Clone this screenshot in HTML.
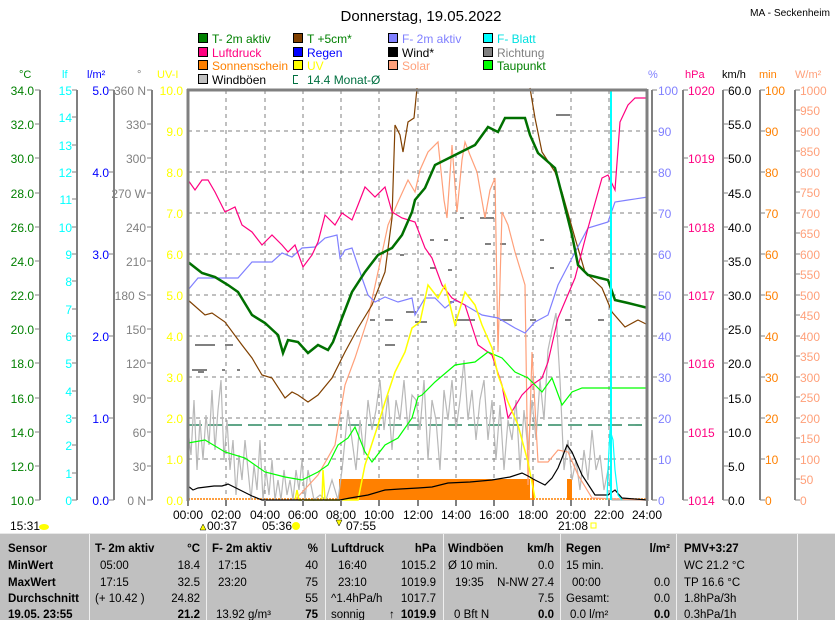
<!DOCTYPE html>
<html><head><meta charset="utf-8"><style>
html,body{margin:0;padding:0;background:#fff;}
svg{display:block;font-family:"Liberation Sans",sans-serif;}
</style></head><body>
<svg width="835" height="620" viewBox="0 0 835 620" xmlns="http://www.w3.org/2000/svg">
<rect width="835" height="620" fill="#fff"/>
<text x="421" y="21" font-size="15" text-anchor="middle">Donnerstag, 19.05.2022</text>
<text x="750" y="16" font-size="10" textLength="80" lengthAdjust="spacingAndGlyphs">MA - Seckenheim</text>
<!-- legend -->
<g font-size="12" stroke="#000" stroke-width="1">
<rect x="198.5" y="33.5" width="9" height="9" fill="#008000"/><rect x="293.5" y="33.5" width="9" height="9" fill="#804000"/><rect x="388.5" y="33.5" width="9" height="9" fill="#8080ff"/><rect x="483.5" y="33.5" width="9" height="9" fill="#00ffff"/>
<rect x="198.5" y="47.5" width="9" height="9" fill="#ff0080"/><rect x="293.5" y="47.5" width="9" height="9" fill="#0000ff"/><rect x="388.5" y="47.5" width="9" height="9" fill="#000"/><rect x="483.5" y="47.5" width="9" height="9" fill="#808080"/>
<rect x="198.5" y="60.5" width="9" height="9" fill="#ff8000"/><rect x="293.5" y="60.5" width="9" height="9" fill="#ffff00"/><rect x="388.5" y="60.5" width="9" height="9" fill="#ffa07a"/><rect x="483.5" y="60.5" width="9" height="9" fill="#00ff00"/>
<rect x="198.5" y="74.5" width="9" height="9" fill="#c0c0c0"/>
</g>
<path d="M298,75.5 H293.5 V83.5 H298" fill="none" stroke="#007040"/>
<g font-size="12" stroke="none">
<text x="212" y="43" fill="#008000">T- 2m aktiv</text><text x="307" y="43" fill="#008000">T +5cm*</text><text x="402" y="43" fill="#8080ff">F- 2m aktiv</text><text x="497" y="43" fill="#00e0e0">F- Blatt</text>
<text x="212" y="57" fill="#ff0080">Luftdruck</text><text x="307" y="57" fill="#0000ff">Regen</text><text x="402" y="57" fill="#000">Wind*</text><text x="497" y="57" fill="#808080">Richtung</text>
<text x="212" y="70" fill="#ff8000">Sonnenschein</text><text x="307" y="70" fill="#ffff00">UV</text><text x="402" y="70" fill="#ffa07a">Solar</text><text x="497" y="70" fill="#008000">Taupunkt</text>
<text x="212" y="84" fill="#000">Windböen</text><text x="307" y="84" fill="#007040">14.4 Monat-Ø</text>
</g>
<!-- axis titles -->
<g font-size="11">
<text x="19" y="78" fill="#008000">°C</text><text x="62" y="78" fill="#00ffff">lf</text><text x="87" y="78" fill="#0000ff">l/m²</text><text x="137" y="78" fill="#808080">°</text><text x="157" y="78" fill="#ffff00">UV-I</text>
<text x="648" y="78" fill="#8080ff">%</text><text x="685" y="78" fill="#ff0080">hPa</text><text x="722" y="78" fill="#000">km/h</text><text x="759" y="78" fill="#ff8000">min</text><text x="795" y="78" fill="#ffa07a">W/m²</text>
</g>
<!-- axis lines -->
<g stroke="#808080" stroke-width="2">
<line x1="40" y1="90" x2="40" y2="500"/><line x1="77" y1="90" x2="77" y2="500"/><line x1="114" y1="90" x2="114" y2="500"/><line x1="152" y1="90" x2="152" y2="500"/>
<line x1="652" y1="90" x2="652" y2="500"/><line x1="683" y1="90" x2="683" y2="500"/><line x1="723" y1="90" x2="723" y2="500"/><line x1="760" y1="90" x2="760" y2="500"/><line x1="795" y1="90" x2="795" y2="500"/>
</g>
<!-- left ticks & labels -->
<g font-size="12" text-anchor="end">
<g fill="#008000"><text x="34" y="95">34.0</text><text x="34" y="129">32.0</text><text x="34" y="163">30.0</text><text x="34" y="198">28.0</text><text x="34" y="232">26.0</text><text x="34" y="266">24.0</text><text x="34" y="300">22.0</text><text x="34" y="334">20.0</text><text x="34" y="368">18.0</text><text x="34" y="403">16.0</text><text x="34" y="437">14.0</text><text x="34" y="471">12.0</text><text x="34" y="505">10.0</text></g>
<g fill="#00ffff"><text x="72" y="95">15</text><text x="72" y="122">14</text><text x="72" y="150">13</text><text x="72" y="177">12</text><text x="72" y="204">11</text><text x="72" y="232">10</text><text x="72" y="259">9</text><text x="72" y="286">8</text><text x="72" y="314">7</text><text x="72" y="341">6</text><text x="72" y="368">5</text><text x="72" y="396">4</text><text x="72" y="423">3</text><text x="72" y="450">2</text><text x="72" y="478">1</text><text x="72" y="505">0</text></g>
<g fill="#0000ff"><text x="109" y="95">5.0</text><text x="109" y="177">4.0</text><text x="109" y="259">3.0</text><text x="109" y="341">2.0</text><text x="109" y="423">1.0</text><text x="109" y="505">0.0</text></g>
<g fill="#808080"><text x="146" y="95">360 N</text><text x="146" y="129">330</text><text x="146" y="163">300</text><text x="146" y="198">270 W</text><text x="146" y="232">240</text><text x="146" y="266">210</text><text x="146" y="300">180 S</text><text x="146" y="334">150</text><text x="146" y="368">120</text><text x="146" y="403">90</text><text x="146" y="437">60</text><text x="146" y="471">30</text><text x="146" y="505">0 N</text></g>
<g fill="#ffff00"><text x="183" y="95">10.0</text><text x="183" y="136">9.0</text><text x="183" y="177">8.0</text><text x="183" y="218">7.0</text><text x="183" y="259">6.0</text><text x="183" y="300">5.0</text><text x="183" y="341">4.0</text><text x="183" y="382">3.0</text><text x="183" y="423">2.0</text><text x="183" y="464">1.0</text><text x="183" y="505">0.0</text></g>
</g>
<g stroke="#808080" stroke-width="1">
<path d="M35,90h5M35,124h5M35,158h5M35,193h5M35,227h5M35,261h5M35,295h5M35,329h5M35,363h5M35,398h5M35,432h5M35,466h5M35,500h5"/>
<path d="M72,90h5M72,117h5M72,145h5M72,172h5M72,199h5M72,227h5M72,254h5M72,281h5M72,309h5M72,336h5M72,363h5M72,391h5M72,418h5M72,445h5M72,473h5M72,500h5"/>
<path d="M109,90h5M109,172h5M109,254h5M109,336h5M109,418h5M109,500h5"/>
<path d="M147,90h5M147,124h5M147,158h5M147,193h5M147,227h5M147,261h5M147,295h5M147,329h5M147,363h5M147,398h5M147,432h5M147,466h5M147,500h5"/>
<path d="M652,90h5M652,131h5M652,172h5M652,213h5M652,254h5M652,295h5M652,336h5M652,377h5M652,418h5M652,459h5M652,500h5"/>
<path d="M683,90h5M683,158h5M683,227h5M683,295h5M683,363h5M683,432h5M683,500h5"/>
<path d="M723,90h5M723,124h5M723,158h5M723,193h5M723,227h5M723,261h5M723,295h5M723,329h5M723,363h5M723,398h5M723,432h5M723,466h5M723,500h5"/>
<path d="M760,90h5M760,131h5M760,172h5M760,213h5M760,254h5M760,295h5M760,336h5M760,377h5M760,418h5M760,459h5M760,500h5"/>
<path d="M795,90h5M795,110h5M795,131h5M795,151h5M795,172h5M795,192h5M795,213h5M795,233h5M795,254h5M795,274h5M795,295h5M795,315h5M795,336h5M795,356h5M795,377h5M795,397h5M795,418h5M795,438h5M795,459h5M795,479h5M795,500h5"/>
</g>
<g font-size="12">
<g fill="#8080ff"><text x="658" y="95">100</text><text x="658" y="136">90</text><text x="658" y="177">80</text><text x="658" y="218">70</text><text x="658" y="259">60</text><text x="658" y="300">50</text><text x="658" y="341">40</text><text x="658" y="382">30</text><text x="658" y="423">20</text><text x="658" y="464">10</text><text x="658" y="505">0</text></g>
<g fill="#ff0080"><text x="688" y="95">1020</text><text x="688" y="163">1019</text><text x="688" y="232">1018</text><text x="688" y="300">1017</text><text x="688" y="368">1016</text><text x="688" y="437">1015</text><text x="688" y="505">1014</text></g>
<g fill="#000"><text x="728" y="95">60.0</text><text x="728" y="129">55.0</text><text x="728" y="163">50.0</text><text x="728" y="198">45.0</text><text x="728" y="232">40.0</text><text x="728" y="266">35.0</text><text x="728" y="300">30.0</text><text x="728" y="334">25.0</text><text x="728" y="368">20.0</text><text x="728" y="403">15.0</text><text x="728" y="437">10.0</text><text x="728" y="471">5.0</text><text x="728" y="505">0.0</text></g>
<g fill="#ff8000"><text x="765" y="95">100</text><text x="765" y="136">90</text><text x="765" y="177">80</text><text x="765" y="218">70</text><text x="765" y="259">60</text><text x="765" y="300">50</text><text x="765" y="341">40</text><text x="765" y="382">30</text><text x="765" y="423">20</text><text x="765" y="464">10</text><text x="765" y="505">0</text></g>
<g fill="#ffa07a"><text x="800" y="95">1000</text><text x="800" y="115">950</text><text x="800" y="136">900</text><text x="800" y="156">850</text><text x="800" y="177">800</text><text x="800" y="197">750</text><text x="800" y="218">700</text><text x="800" y="238">650</text><text x="800" y="259">600</text><text x="800" y="279">550</text><text x="800" y="300">500</text><text x="800" y="320">450</text><text x="800" y="341">400</text><text x="800" y="361">350</text><text x="800" y="382">300</text><text x="800" y="402">250</text><text x="800" y="423">200</text><text x="800" y="443">150</text><text x="800" y="464">100</text><text x="800" y="484">50</text><text x="800" y="505">0</text></g>
</g>
<!-- grid -->
<g stroke="#808080" stroke-width="1" stroke-dasharray="4,4" fill="none">
<path d="M188,131H647M188,172H647M188,213H647M188,254H647M188,295H647M188,336H647M188,377H647M188,418H647M188,459H647"/>
<path d="M226,90V500M265,90V500M303,90V500M341,90V500M379,90V500M418,90V500M456,90V500M494,90V500M533,90V500M571,90V500M609,90V500"/>
</g>
<line x1="188" y1="425" x2="647" y2="425" stroke="#007040" stroke-width="1.3" stroke-dasharray="14,6"/>
<!-- sunshine -->
<path d="M339,479H530V500H339Z M532,479H534V500H532Z M567,479H572V500H567Z" fill="#ff8000"/>
<line x1="188" y1="499" x2="647" y2="499" stroke="#ff8000" stroke-width="1.5" stroke-dasharray="2,1"/>
<!-- richtung dashes -->
<g stroke="#808080" stroke-width="2">
<path d="M195,345h20M225,345h8M192,370h15M222,370h3M198,372h6M237,370h3M370,320h5M385,345h10M406,312h10M430,240h4M430,268h6M444,240h4M460,218h4M448,270h4M400,255h4M450,302h4M480,218h14M485,244h6M500,244h6M540,240h4M550,268h4M556,115h14M385,320h8M415,322h12M455,320h20M500,320h12M530,320h6M565,320h6M598,320h6"/>
</g>
<!-- windböen -->
<polyline fill="none" stroke="#b8b8b8" stroke-width="1.2" points="188,430 191,455 194,400 197,470 200,420 203,460 206,415 209,445 212,390 215,450 218,410 221,380 224,460 227,420 230,470 233,440 236,495 239,455 242,480 245,440 248,470 251,500 254,465 257,490 260,440 263,500 266,470 269,495 272,460 275,500 278,480 281,500 284,470 287,495 290,480 293,500 296,470 299,490 302,460 305,500 308,470 311,485 314,500 320,495 326,500 332,480 338,500 342,470 348,410 352,440 356,470 360,420 364,455 368,400 372,430 376,410 380,380 384,430 388,395 392,450 396,400 400,420 404,380 408,430 412,395 416,400 420,430 424,380 428,460 432,400 436,420 440,470 444,390 448,420 452,380 456,430 460,400 464,360 468,420 472,390 476,440 480,400 484,380 488,440 492,400 496,460 500,405 504,470 508,420 512,440 516,400 520,470 524,410 528,450 532,400 536,440 540,380 544,420 548,350 552,330 556,313 560,380 564,470 568,440 572,480 576,460 580,490 584,450 588,480 592,430 596,470 600,455 604,490 608,470 612,500 618,500 647,500"/>
<!-- solar -->
<polyline fill="none" stroke="#ffa07a" stroke-width="1.2" points="295,500 318,475 335,445 345,385 355,358 368,318 378,272 388,225 398,202 408,180 415,192 420,170 428,152 438,142 444,200 447,218 452,145 457,212 462,160 465,142 470,155 477,172 485,218 490,190 495,178 498,352 502,212 508,225 515,252 525,285 528,485 532,352 538,462 548,462 558,450 568,452 578,475 592,498 647,500"/>
<!-- T+5cm -->
<polyline fill="none" stroke="#804000" stroke-width="1.2" points="188,300 205,315 212,313 225,322 242,345 252,358 262,375 272,378 285,398 292,392 298,395 308,402 318,395 332,378 345,352 358,328 372,305 385,272 392,218 395,125 400,135 403,152 408,122 414,118 417,88"/>
<polyline fill="none" stroke="#804000" stroke-width="1.2" points="530,88 535,118 542,152 555,172 562,192 575,238 585,272 602,288 612,312 625,327 638,320 648,325"/>
<!-- F 2m -->
<polyline fill="none" stroke="#8080ff" stroke-width="1.2" points="188,290 198,278 218,278 238,278 252,262 272,262 282,253 292,257 302,248 315,247 325,238 337,235 340,258 345,250 352,248 362,278 368,295 375,302 385,297 398,302 412,298 415,315 425,298 435,298 445,308 455,300 465,305 482,315 498,318 515,328 525,333 535,322 548,315 558,285 572,258 588,228 608,222 615,202 628,200 648,197"/>
<!-- Luftdruck -->
<polyline fill="none" stroke="#ff0080" stroke-width="1.2" points="188,180 195,190 202,180 208,180 215,192 225,212 235,207 242,225 252,232 262,245 272,235 282,245 288,252 295,245 303,267 312,255 318,242 325,215 335,225 342,213 352,220 358,205 365,187 375,197 385,187 392,212 402,218 415,222 425,248 432,258 442,285 452,298 465,305 478,345 492,355 502,385 508,418 522,395 532,385 542,378 548,362 558,318 575,278 588,228 602,178 608,175 615,190 620,122 628,105 635,98 648,98"/>
<!-- Taupunkt -->
<polyline fill="none" stroke="#00ff00" stroke-width="1.2" points="188,443 205,440 225,452 245,458 265,472 285,477 302,480 318,472 328,465 338,445 348,438 355,427 365,452 372,462 385,445 398,438 412,418 418,397 422,395 435,382 455,365 475,362 488,352 502,358 515,372 528,378 542,392 552,378 562,405 572,392 582,388 605,388 615,388 648,388"/>
<!-- UV -->
<polyline fill="none" stroke="#ffff00" stroke-width="1.5" points="295,500 297,490 299,500 322,500 323,470 325,500 358,500 365,465 378,425 385,402 395,372 405,352 412,328 420,322 428,285 438,298 445,285 455,325 465,292 475,305 482,325 492,348 498,375 508,402 518,425 528,462 535,498"/>
<!-- wind black -->
<polyline fill="none" stroke="#000" stroke-width="1.2" points="188,486 193,490 198,488 206,487 214,486 222,486 228,484 236,488 244,492 252,496 262,500 340,500 350,498 368,495 385,490 400,489 418,488 432,487 448,483 470,482 492,480 510,477 522,473 528,476 535,480 545,485 552,478 558,468 562,458 567,445 572,452 582,475 595,495 608,495 615,490 622,498 648,500"/>
<!-- T 2m -->
<polyline fill="none" stroke="#007000" stroke-width="2.5" points="188,262 202,273 215,277 228,285 238,292 252,315 265,323 278,335 283,353 288,340 298,342 308,353 318,345 328,350 333,342 342,318 352,292 365,272 378,255 392,248 402,235 412,212 415,200 425,188 435,165 455,155 475,145 488,127 498,132 505,118 525,118 530,135 538,153 555,168 562,195 572,235 578,265 588,275 608,280 615,300 628,303 648,308"/>
<!-- cyan -->
<line x1="611" y1="90" x2="611" y2="500" stroke="#00ffff" stroke-width="2"/>
<polyline fill="none" stroke="#00ffff" stroke-width="1.2" points="607,500 608,470 610,430 613,440 615,470 618,495 622,500"/>
<!-- frame -->
<g stroke="#808080" stroke-width="3" fill="none">
<line x1="188" y1="89" x2="188" y2="501"/><line x1="187" y1="90" x2="647" y2="90"/><line x1="647" y1="89" x2="647" y2="501"/>
</g>
<g stroke="#808080" stroke-width="2">
<path d="M188,500v6M226,500v6M265,500v6M303,500v6M341,500v6M379,500v6M418,500v6M456,500v6M494,500v6M533,500v6M571,500v6M609,500v6M647,500v6"/>
</g>
<g font-size="12" text-anchor="middle">
<text x="188" y="519">00:00</text><text x="226" y="519">02:00</text><text x="265" y="519">04:00</text><text x="303" y="519">06:00</text><text x="341" y="519">08:00</text><text x="379" y="519">10:00</text><text x="418" y="519">12:00</text><text x="456" y="519">14:00</text><text x="494" y="519">16:00</text><text x="533" y="519">18:00</text><text x="571" y="519">20:00</text><text x="609" y="519">22:00</text><text x="647" y="519">24:00</text>
</g>
<g font-size="12">
<text x="10" y="530">15:31</text><ellipse cx="44" cy="527" rx="5" ry="3" fill="#ffff00"/>
<text x="207" y="530">00:37</text><path d="M200,530l3,-6l3,6z" fill="#ffff00" stroke="#000" stroke-width=".5"/>
<text x="262" y="530">05:36</text><circle cx="296" cy="526" r="4" fill="#ffff00"/>
<text x="346" y="530">07:55</text><path d="M336,520l3,6l3,-6z" fill="#ffff00" stroke="#000" stroke-width=".5"/>
<text x="558" y="530">21:08</text><rect x="591" y="523" width="5" height="5" fill="none" stroke="#ffff00"/>
</g>
<!-- table -->
<rect x="0" y="533" width="835" height="87" fill="#c0c0c0"/>
<line x1="0" y1="533.5" x2="835" y2="533.5" stroke="#e8e8e8"/>
<g stroke="#f0f0f0" stroke-width="1">
<path d="M89.5,534V620M206.5,534V620M325.5,534V620M443.5,534V620M560.5,534V620M676.5,534V620M797.5,534V620"/>
</g>
<g font-size="11.5" fill="#000">
<g font-weight="bold"><text x="8" y="552">Sensor</text><text x="8" y="569">MinWert</text><text x="8" y="586">MaxWert</text><text x="8" y="602">Durchschnitt</text><text x="8" y="618">19.05. 23:55</text>
<text x="95" y="552">T- 2m aktiv</text><text x="200" y="552" text-anchor="end">°C</text>
<text x="212" y="552">F- 2m aktiv</text><text x="318" y="552" text-anchor="end">%</text>
<text x="331" y="552">Luftdruck</text><text x="436" y="552" text-anchor="end">hPa</text>
<text x="448" y="552">Windböen</text><text x="554" y="552" text-anchor="end">km/h</text>
<text x="566" y="552">Regen</text><text x="670" y="552" text-anchor="end">l/m²</text>
<text x="684" y="552">PMV+3:27</text></g>
<text x="100" y="569">05:00</text><text x="200" y="569" text-anchor="end">18.4</text>
<text x="218" y="569">17:15</text><text x="318" y="569" text-anchor="end">40</text>
<text x="338" y="569">16:40</text><text x="436" y="569" text-anchor="end">1015.2</text>
<text x="448" y="569">Ø 10 min.</text><text x="554" y="569" text-anchor="end">0.0</text>
<text x="566" y="569">15 min.</text><text x="684" y="569">WC 21.2 °C</text>
<text x="100" y="586">17:15</text><text x="200" y="586" text-anchor="end">32.5</text>
<text x="218" y="586">23:20</text><text x="318" y="586" text-anchor="end">75</text>
<text x="338" y="586">23:10</text><text x="436" y="586" text-anchor="end">1019.9</text>
<text x="455" y="586">19:35</text><text x="554" y="586" text-anchor="end">N-NW 27.4</text>
<text x="572" y="586">00:00</text><text x="670" y="586" text-anchor="end">0.0</text><text x="684" y="586">TP 16.6 °C</text>
<text x="95" y="602">(+ 10.42 )</text><text x="200" y="602" text-anchor="end">24.82</text>
<text x="318" y="602" text-anchor="end">55</text>
<text x="331" y="602">^1.4hPa/h</text><text x="436" y="602" text-anchor="end">1017.7</text>
<text x="554" y="602" text-anchor="end">7.5</text>
<text x="566" y="602">Gesamt:</text><text x="670" y="602" text-anchor="end">0.0</text><text x="684" y="602">1.8hPa/3h</text>
<text x="200" y="618" text-anchor="end" font-weight="bold">21.2</text>
<text x="216" y="618">13.92 g/m³</text><text x="318" y="618" text-anchor="end" font-weight="bold">75</text>
<text x="331" y="618">sonnig</text><text x="389" y="618" font-weight="bold">↑</text><text x="436" y="618" text-anchor="end" font-weight="bold">1019.9</text>
<text x="454" y="618">0 Bft N</text><text x="554" y="618" text-anchor="end" font-weight="bold">0.0</text>
<text x="570" y="618">0.0 l/m²</text><text x="670" y="618" text-anchor="end" font-weight="bold">0.0</text><text x="684" y="618">0.3hPa/1h</text>
</g>
</svg>
</body></html>
